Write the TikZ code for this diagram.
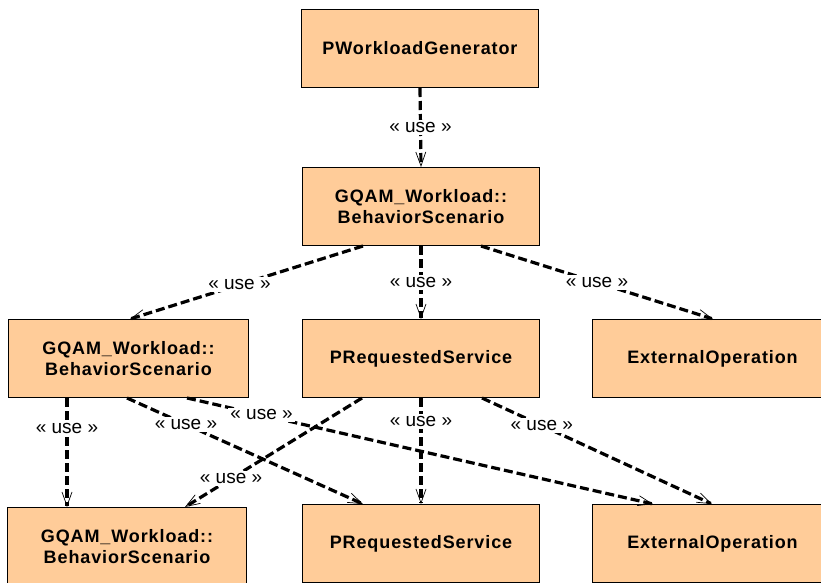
\documentclass[tikz,border=0pt]{standalone}
\usepackage{fontspec}
\setmainfont{Liberation Sans}
\usetikzlibrary{arrows.meta}
\definecolor{peach}{HTML}{FFCC99}
\newfontfamily\boxfont[LetterSpace=5]{Liberation Sans}
\tikzset{
  cls/.style={draw=black, line width=1pt, fill=peach, minimum width=237pt, minimum height=78pt, font=\boxfont\fontsize{18}{21}\selectfont\bfseries, align=center, anchor=north west, inner sep=0pt},
  uses/.style={line width=3.2pt, dash pattern=on 9pt off 4pt, -{Straight Barb[line width=0.7pt, length=14pt, width=10pt]}},
  lbl/.style={fill=white, inner sep=2pt, font=\fontsize{19}{21}\selectfont}
}
\begin{document}
\begin{tikzpicture}[x=1pt, y=-1pt]
\useasboundingbox (0,0) rectangle (821,582);
\begin{scope}
\clip (0,0) rectangle (821,582);
\node[cls] (pwg) at (301,9) {PWorkloadGenerator};
\node[cls] (bs) at (302,167) {GQAM\_Workload::\\BehaviorScenario};
\node[cls, minimum width=240pt] (bs2) at (8,319) {GQAM\_Workload::\\BehaviorScenario};
\node[cls] (rs) at (302,319) {PRequestedService};
\node[cls, minimum width=240pt] (eo) at (592,319) {ExternalOperation};
\node[cls, minimum width=239pt] (bs3) at (7,507) {GQAM\_Workload::\\BehaviorScenario};
\node[cls] (rs3) at (302,504) {PRequestedService};
\node[cls, minimum width=240pt] (eo3) at (592,504) {ExternalOperation};
\end{scope}
% top to bs
\draw[uses] (pwg.south) -- node[lbl, pos=0.5] {« use »} (bs.north);
% bs to row 3
\draw[uses] ([xshift=-58pt]bs.south) -- node[lbl, pos=0.53] {« use »} ([xshift=122pt]bs2.north west);
\draw[uses] (bs.south) -- node[lbl, pos=0.5] {« use »} (rs.north);
\draw[uses] ([xshift=60pt]bs.south) -- node[lbl, pos=0.5] {« use »} ([xshift=121pt]eo.north west);
% bs2 to row 4
\draw[uses] ([xshift=59pt]bs2.south west) -- node[lbl, pos=0.28] {« use »} ([xshift=60pt]bs3.north west);
\draw[uses] ([xshift=119pt]bs2.south west) -- node[lbl, pos=0.25] {« use »} ([xshift=61pt]rs3.north west);
\draw[uses] ([xshift=179pt]bs2.south west) -- node[lbl, pos=0.16] {« use »} ([xshift=61pt]eo3.north west);
% rs to row 4
\draw[uses] ([xshift=60pt]rs.south west) -- node[lbl, pos=0.74] {« use »} ([xshift=178pt]bs3.north west);
\draw[uses] ([xshift=119pt]rs.south west) -- node[lbl, pos=0.22] {« use »} ([xshift=119pt]rs3.north west);
\draw[uses] ([xshift=180pt]rs.south west) -- node[lbl, pos=0.26] {« use »} ([xshift=120pt]eo3.north west);
\end{tikzpicture}
\end{document}
